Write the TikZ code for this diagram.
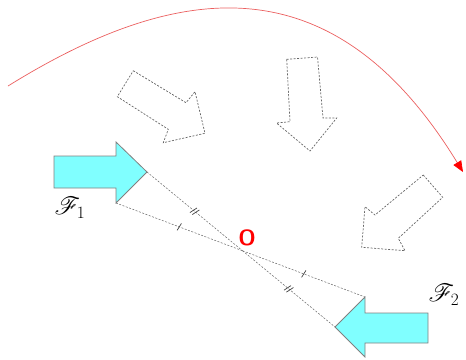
\documentclass[tikz,border=0pt]{standalone}
\usepackage{mathrsfs}
\usetikzlibrary{arrows.meta,decorations.markings}
\begin{document}
\begin{tikzpicture}[x=1pt,y=-1pt,
    force/.style={draw=gray,fill={rgb,255:red,128;green,255;blue,255},line width=0.8pt,line join=miter},
    ghost/.style={draw=black!60,dash pattern=on 2pt off 1.5pt,line width=0.7pt},
    guide/.style={draw=black!60,dash pattern=on 2pt off 1.5pt,line width=0.5pt},
    onetick/.style={postaction={decorate},decoration={markings,mark=at position 0.5 with {\draw[solid,black!75,line width=0.7pt] (-0.8pt,-4pt) -- (0.8pt,4pt);}}},
    twotick/.style={postaction={decorate},decoration={markings,mark=at position 0.5 with {\draw[solid,black!75,line width=0.7pt] (-2.8pt,-4pt) -- (-0.3pt,4pt) (0.3pt,-4pt) -- (2.8pt,4pt);}}},
    turn/.style={draw={rgb,255:red,235;green,95;blue,95},line width=0.7pt},
    forcelabel/.style={font=\fontsize{23}{23}\selectfont}]
        \useasboundingbox (0,0) rectangle (466,359);
        %
        \draw[turn,-{Triangle[length=11pt,width=9pt,red]}] (8,86) .. controls (179,-20) and (334,-39) .. (463,172);
        %
        \draw[ghost] (133.3,70.7) -- (186,102.7) -- (195,91.7) -- (205,133.3) -- (163.3,142.7) -- (168.3,129.3) -- (117.3,96.7) -- cycle;
        \draw[ghost] (286.7,59.3) -- (317.5,57) -- (323,118) -- (336.7,118) -- (310,151) -- (276.5,123) -- (290,121.7) -- cycle;
        \draw[ghost] (423.3,175) -- (442.7,197.3) -- (398.3,238.3) -- (405,250.7) -- (361.7,247.3) -- (365,206.7) -- (375,215) -- cycle;
        %
        \draw[force] (54,156) -- (116,156) -- (116,142) -- (147,172) coordinate (f1tip) -- (116,203) coordinate (f1low) -- (116,188) -- (54,188) -- cycle;
        \draw[force] (428,313) -- (365,313) -- (365,297) coordinate (f2up) -- (335,327) coordinate (f2tip) -- (365,357) -- (365,343) -- (428,343) -- cycle;
        \coordinate (O) at (intersection of f1tip--f2tip and f1low--f2up);
        %
        \draw[guide,twotick] (f1tip) -- (O);
        \draw[guide,twotick] (O) -- (f2tip);
        \draw[guide,onetick] (f1low) -- (O);
        \draw[guide,onetick] (O) -- (f2up);
        %
        \node[forcelabel] (f1label) at (70,208) {$\mathscr{F}_1$};
        \node[forcelabel] (f2label) at (444,295) {$\mathscr{F}_2$};
        \node[text=red,font=\sffamily\bfseries\fontsize{22}{22}\selectfont] (olabel) at (247,238) {O};
\end{tikzpicture}
\end{document}
